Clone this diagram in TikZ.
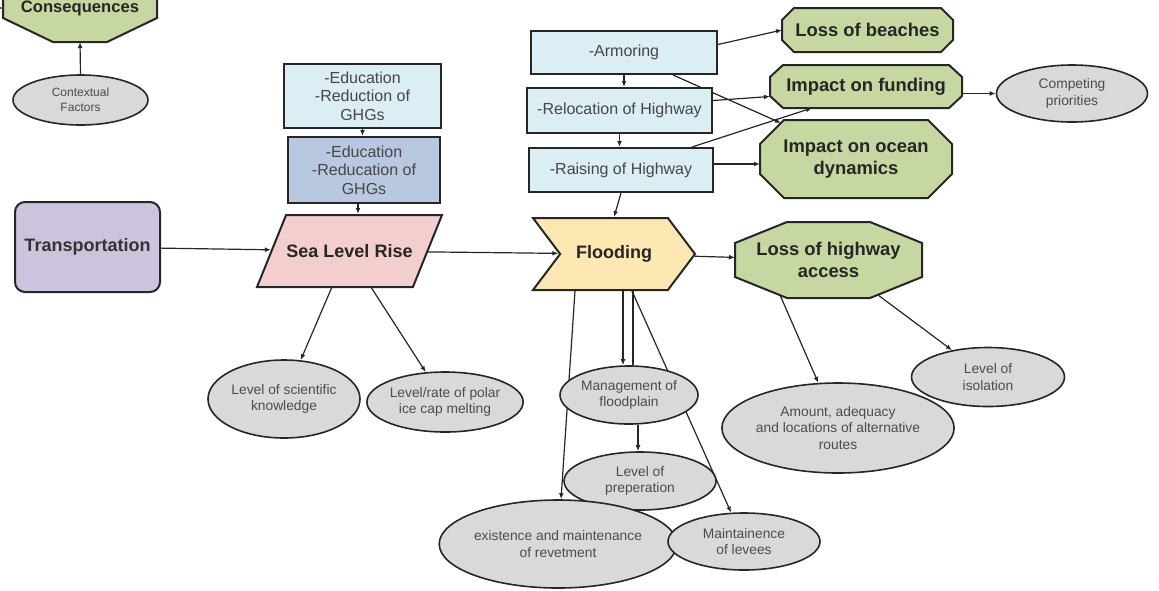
\documentclass[tikz,border=0pt]{standalone}
\usepackage{fontspec}
\setmainfont{Liberation Sans}
\usetikzlibrary{shapes.geometric,shapes.symbols,arrows.meta,backgrounds}

\definecolor{boxcyan}{HTML}{DAEEF4}
\definecolor{boxblue}{HTML}{B8C8E0}
\definecolor{lavender}{HTML}{CEC3DC}
\definecolor{rosepink}{HTML}{F2CFCE}
\definecolor{floodfill}{HTML}{FDE8B3}
\definecolor{octgreen}{HTML}{C6D7A2}
\definecolor{ovalgray}{HTML}{D9D9D9}
\definecolor{inkgray}{HTML}{262626}

\tikzset{
  action/.style={rectangle, draw=inkgray, line width=1pt, fill=boxcyan, text=black!72,
    align=center, font=\fontsize{8}{9.2}\selectfont, inner sep=0pt},
  conseq/.style={rectangle, inner sep=0pt, outer sep=0pt, text=black!85,
    align=center, font=\bfseries\fontsize{9.2}{10.6}\selectfont},
  octline/.style={fill=octgreen, draw=inkgray, line width=1pt, line join=miter},
  factor/.style={ellipse, draw=inkgray, line width=0.8pt, fill=ovalgray, text=black!70,
    align=center, font=\fontsize{6.9}{8.3}\selectfont, inner sep=0pt},
  arr/.style={-{Latex[length=3pt,width=2.4pt]}, draw=inkgray, line width=0.6pt},
}

% octagon round a conseq node: name, chamfer x, chamfer y
\newcommand\octa[3]{\path[octline] ([xshift=#2]#1.north west) -- ([xshift=-#2]#1.north east)
  -- ([yshift=-#3]#1.north east) -- ([yshift=#3]#1.south east) -- ([xshift=-#2]#1.south east)
  -- ([xshift=#2]#1.south west) -- ([yshift=#3]#1.south west) -- ([yshift=-#3]#1.north west) -- cycle;}

\begin{document}
\begin{tikzpicture}[x=0.5pt, y=-0.5pt]
  \useasboundingbox (0,0) rectangle (1159,590);
  \clip (0,0) rectangle (1159,590);

  % legend corner
  \node[conseq, font=\bfseries\fontsize{8.3}{10}\selectfont, minimum width=77pt, minimum height=34pt]
    (cons) at (80,8) {Consequences};
  \node[factor, font=\fontsize{6}{7.4}\selectfont, minimum width=67.5pt, minimum height=25pt]
    (ctx) at (80.5,100) {Contextual\\Factors};
  \coordinate (offl) at (-20,8);

  % drivers
  \node[rectangle, rounded corners=5pt, draw=inkgray, line width=1pt, fill=lavender,
    text=black!80, font=\bfseries\fontsize{9}{10.6}\selectfont, minimum width=72.5pt,
    minimum height=45pt] (trans) at (87.5,247) {Transportation};
  \node[action, minimum width=78.5pt, minimum height=32pt] (edu1) at (362.5,96)
    {-Education\\-Reduction of\\GHGs};
  \node[action, fill=boxblue, minimum width=76pt, minimum height=33pt] (edu2) at (364,170)
    {-Education\\-Reducation of\\GHGs};
  \node[trapezium, trapezium left angle=68, trapezium right angle=112, trapezium stretches body=true,
    draw=inkgray, line width=1pt, fill=rosepink, text=black!85, inner sep=0pt,
    text height=21.3pt, text depth=14.7pt,
    font=\bfseries\fontsize{9}{10.6}\selectfont, minimum width=92.5pt]
    (slr) at (349.5,251) {Sea Level Rise};
  \node[signal, signal to=east, signal from=west, signal pointer angle=106,
    draw=inkgray, line width=1pt, fill=floodfill, text=black!85, inner sep=0pt,
    font=\bfseries\fontsize{9}{10.6}\selectfont, minimum width=81pt, minimum height=36pt]
    (flood) at (614,254) {Flooding};

  % adaptation
  \node[action, minimum width=93pt, minimum height=21.5pt] (armor) at (624,52.5) {-Armoring};
  \node[action, minimum width=92.5pt, minimum height=22.5pt] (reloc) at (619.5,110.5)
    {-Relocation of Highway};
  \node[action, minimum width=92pt, minimum height=22pt] (raise) at (621,170)
    {-Raising of Highway};

  % consequences
  \node[conseq, minimum width=85.5pt, minimum height=22pt] (beach) at (867.5,30) {Loss of beaches};
  \node[conseq, minimum width=96pt, minimum height=21.5pt] (fund) at (866,86.5) {Impact on funding};
  \node[conseq, minimum width=96pt, minimum height=39pt] (ocean) at (856,159) {Impact on ocean\\dynamics};
  \node[conseq, minimum width=93.5pt, minimum height=38pt] (lha) at (828.5,260) {Loss of highway\\access};

  % contextual factors
  \node[factor, minimum width=75.5pt, minimum height=28.5pt] (comp) at (1072,93.5)
    {Competing\\priorities};
  \node[factor, minimum width=76pt, minimum height=39pt] (slk) at (284,399)
    {Level of scientific\\knowledge};
  \node[factor, minimum width=72pt, minimum height=30pt] (polar) at (445,402)
    {Level/rate of polar\\ice cap melting};
  \node[factor, minimum width=69pt, minimum height=29pt] (mgmt) at (629,395)
    {Management of\\floodplain};
  \node[factor, minimum width=76pt, minimum height=29pt] (prep) at (640,481)
    {Level of\\preperation};
  \node[factor, minimum width=106pt, minimum height=44pt] (revet) at (558,544)
    {existence and maintenance\\of revetment};
  \node[factor, minimum width=76pt, minimum height=28.5pt] (levee) at (744,541.5)
    {Maintainence\\of levees};
  \node[factor, minimum width=105pt, minimum height=45pt] (amount) at (838,428)
    {Amount, adequacy\\and locations of alternative\\routes};
  \node[factor, minimum width=76.5pt, minimum height=29.5pt] (iso) at (988,377)
    {Level of\\isolation};

  \begin{scope}[on background layer]
    \octa{cons}{25pt}{12pt}
    \octa{beach}{6pt}{6pt}
    \octa{fund}{6.5pt}{6pt}
    \octa{ocean}{12pt}{12pt}
    \octa{lha}{26pt}{10.5pt}

    % connectors
    \draw[arr] (offl) -- (cons);
    \draw[arr] (ctx.north) -- (cons.south);
    \draw[arr] (edu1.south) -- (edu1.south |- edu2.north);
    \draw[arr] ([xshift=-3pt]edu2.south) -- ([xshift=-3pt]edu2.south |- slr.top left corner);
    \draw[arr] (trans) -- (slr);
    \draw[arr] (slr) -- (flood);
    \draw[arr] (flood) -- (lha);
    \draw[arr] (armor.south) -- (armor.south |- reloc.north);
    \draw[arr] (reloc.south) -- (reloc.south |- raise.north);
    \draw[arr] (raise.south) -- (flood.north);
    \draw[arr] ([yshift=4pt]armor.east) -- (beach.west);
    \draw[arr] ([xshift=24.5pt]armor.south) -- ([xshift=10.5pt,yshift=-1.5pt]ocean.north west);
    \draw[arr] ([yshift=5pt]reloc.east) -- ([yshift=-5pt]fund.west);
    \draw[arr] ([xshift=35.5pt]raise.north) -- ([xshift=21pt]fund.south west);
    \draw[arr] ([yshift=3pt]raise.east) -- ([yshift=3pt]raise.east -| ocean.west);
    \draw[arr] (comp.west -| fund.east) -- (comp.west);
    \draw[arr] ([xshift=38pt]slr.bottom left corner) -- (slk);
    \draw[arr] ([xshift=58pt]slr.bottom left corner) -- (polar);
    \draw[arr] ([xshift=-19.5pt]flood.south) -- (revet);
    \draw[arr] ([xshift=4.5pt]flood.south) -- ([xshift=4.5pt]flood.south |- mgmt.north);
    \draw[inkgray, line width=0.6pt] ([xshift=9.5pt]flood.south) -- ([xshift=9.5pt]flood.south |- mgmt.north);
    \draw[arr] ([xshift=9pt]flood.south) -- (levee);
    \draw[arr] ([xshift=4.5pt]mgmt.south) -- ([xshift=4.5pt]mgmt.south |- prep.north);
    \draw[arr] ([xshift=22.5pt,yshift=1.5pt]lha.south west) -- (amount);
    \draw[arr] ([xshift=-22pt,yshift=1.5pt]lha.south east) -- (iso);
  \end{scope}
\end{tikzpicture}
\end{document}
